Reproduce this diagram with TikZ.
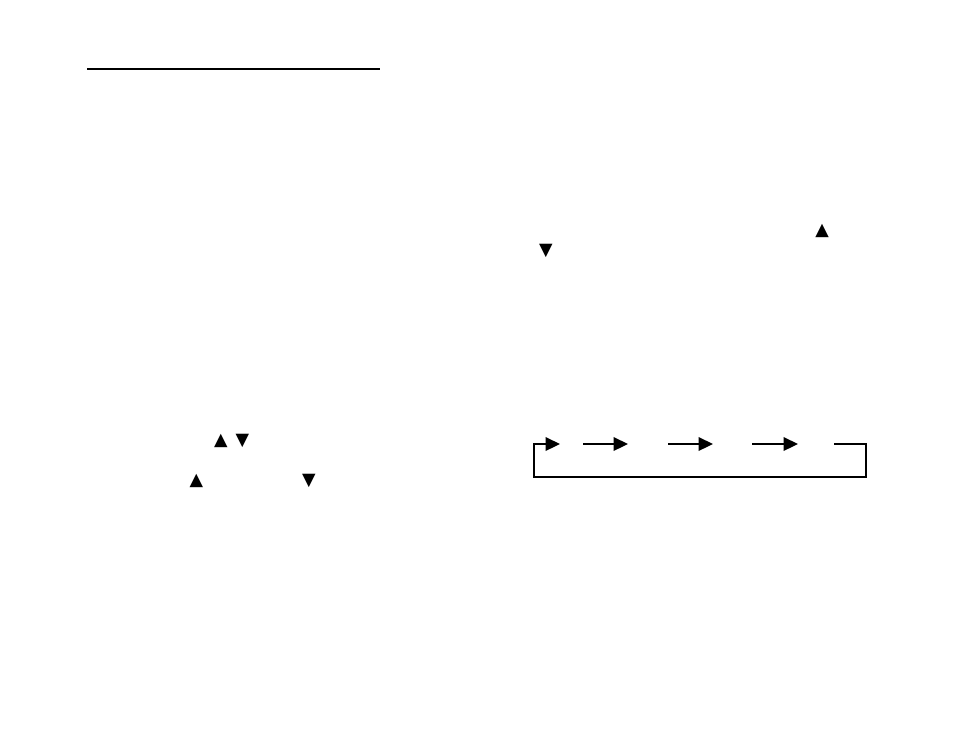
\documentclass[tikz,border=0pt]{standalone}
\usepackage{fontspec}
\newfontfamily\symfont{DejaVu Sans}
\usetikzlibrary{arrows.meta,positioning}

\begin{document}
\begin{tikzpicture}[
  x=0.02cm, y=-0.02cm,
  key/.style={inner sep=0pt, font=\symfont\fontsize{10}{11}\selectfont},
  flow/.style={line width=1.4pt, -{Triangle[length=8.2pt,width=7.6pt]}},
  rule/.style={line width=1.4pt}
]
\useasboundingbox (0,0) rectangle (954,738);

% heading rule
\coordinate (ruleL) at (87,69);
\coordinate (ruleR) at (380,69);
\draw[rule] (ruleL) -- (ruleR);

% arrow keys in the text
\node[key] (upA) at (822,231) {▲};
\node[key] (downA) at (546,251) {▼};
\node[key] (upB) at (221,441) {▲};
\node[key] (downB) at (242.5,441) {▼};
\node[key] (upC) at (196.5,481) {▲};
\node[key] (downC) at (309,481) {▼};

% cycle of steps
\coordinate (s1) at (583,444);
\coordinate (t1) at (628,444);
\coordinate (s2) at (668,444);
\coordinate (t2) at (713,444);
\coordinate (s3) at (752,444);
\coordinate (t3) at (798,444);
\coordinate (s4) at (834,444);
\coordinate (backR) at (866,444);
\coordinate (backBR) at (866,477);
\coordinate (backBL) at (534,477);
\coordinate (backL) at (534,444);
\coordinate (t0) at (560,444);

\draw[flow] (s1) -- (t1);
\draw[flow] (s2) -- (t2);
\draw[flow] (s3) -- (t3);
\draw[flow] (s4) -- (backR) -- (backBR) -- (backBL) -- (backL) -- (t0);
\end{tikzpicture}
\end{document}
